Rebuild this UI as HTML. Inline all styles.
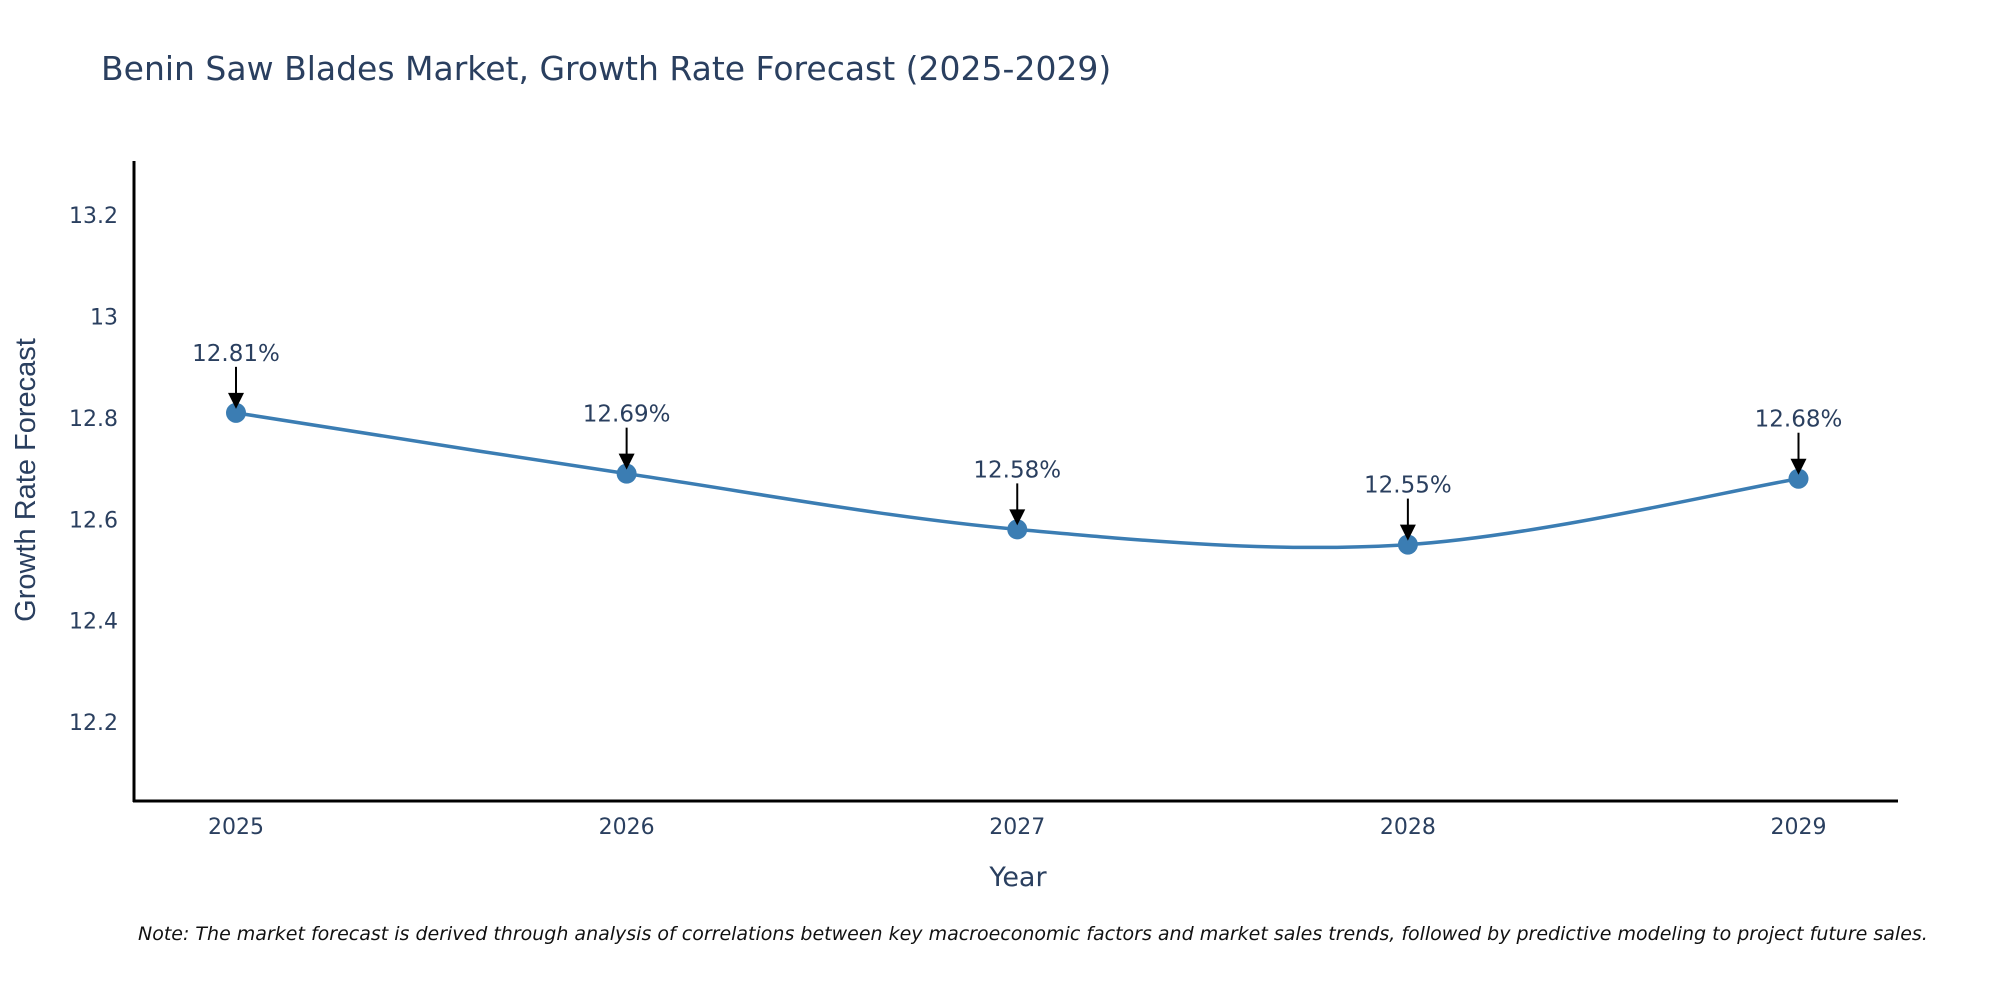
<!DOCTYPE html>
<html><head><meta charset="utf-8"><style>
html,body{margin:0;padding:0;background:#fff;}
svg text{font-family:"DejaVu Sans","Liberation Sans",sans-serif;fill:#2a3f5f;}
</style></head><body>
<svg id="chart" width="2000" height="1000" xmlns="http://www.w3.org/2000/svg">
<text x="101" y="80" font-size="33">Benin Saw Blades Market, Growth Rate Forecast (2025-2029)</text>
<g id="yticks"></g>
<g id="xticks"></g>
<path id="line" fill="none" stroke="#3b7db3" stroke-width="3.5"/>
<g id="marks"></g>
<line x1="134" y1="161" x2="134" y2="802" stroke="#000" stroke-width="3"/>
<line x1="133" y1="801" x2="1898" y2="801" stroke="#000" stroke-width="3"/>
<text transform="translate(35,480) rotate(-90)" text-anchor="middle" font-size="29" style="font-family:'Liberation Sans',sans-serif">Growth Rate Forecast</text>
<text x="1018" y="886" text-anchor="middle" font-size="27">Year</text>
<text x="138" y="940" font-size="19" font-style="italic" style="fill:#111">Note: The market forecast is derived through analysis of correlations between key macroeconomic factors and market sales trends, followed by predictive modeling to project future sales.</text>
</svg>
<script>
const years = [2025, 2026, 2027, 2028, 2029];
const rates = [12.81, 12.69, 12.58, 12.55, 12.68];
const yTickValues = [12.2, 12.4, 12.6, 12.8, 13, 13.2];
const yTickLabels = ["12.2", "12.4", "12.6", "12.8", "13", "13.2"];
const NS = "http://www.w3.org/2000/svg";
const yMin = 12.044, yMax = 13.307, pyBottom = 801, pyTop = 161;
const xMin = 2025, xMax = 2029, pxLeft = 236, pxRight = 1798.5;
function xs(v){return pxLeft + (v - xMin) / (xMax - xMin) * (pxRight - pxLeft);}
function ys(v){return pyBottom - (v - yMin) / (yMax - yMin) * (pyBottom - pyTop);}
function mk(tag, attrs){const e=document.createElementNS(NS,tag);for(const k in attrs)e.setAttribute(k,attrs[k]);return e;}
const yg=document.getElementById('yticks');
yTickValues.forEach((v,i)=>{
  const t=mk('text',{x:118,y:ys(v)+8,'text-anchor':'end','font-size':22});
  
  
  t.textContent=yTickLabels[i];yg.appendChild(t);
});
const xg=document.getElementById('xticks');
years.forEach(v=>{
  const t=mk('text',{x:xs(v),y:834,'text-anchor':'middle','font-size':22});
  
  
  t.textContent=String(v);xg.appendChild(t);
});
const pts=years.map((y,i)=>[xs(y),ys(rates[i])]);
let d=`M${pts[0][0]},${pts[0][1]}`;
const s=0.5/3;
for(let i=0;i<pts.length-1;i++){
  const p0=pts[Math.max(0,i-1)],p1=pts[i],p2=pts[i+1],p3=pts[Math.min(pts.length-1,i+2)];
  const c1=[p1[0]+(p2[0]-p0[0])*s,p1[1]+(p2[1]-p0[1])*s];
  const c2=[p2[0]-(p3[0]-p1[0])*s,p2[1]-(p3[1]-p1[1])*s];
  d+=` C${c1[0]},${c1[1]} ${c2[0]},${c2[1]} ${p2[0]},${p2[1]}`;
}
document.getElementById('line').setAttribute('d',d);
const mg=document.getElementById('marks');
pts.forEach((p,i)=>{
  const c=mk('circle',{cx:p[0],cy:p[1],r:10,fill:'#3b7db3'});
  
  
  mg.appendChild(c);
  const l=mk('line',{x1:p[0],y1:p[1]-46,x2:p[0],y2:p[1]-16,stroke:'#000','stroke-width':2});
  
  
  mg.appendChild(l);
  const a=mk('path',{d:`M${p[0]-8},${p[1]-20} L${p[0]+8},${p[1]-20} L${p[0]},${p[1]-4} Z`,fill:'#000'});
  
  
  mg.appendChild(a);
  const t=mk('text',{x:p[0],y:p[1]-52,'text-anchor':'middle','font-size':23});
  
  
  t.textContent=rates[i].toFixed(2)+'%';mg.appendChild(t);
});
</script>
</body></html>
